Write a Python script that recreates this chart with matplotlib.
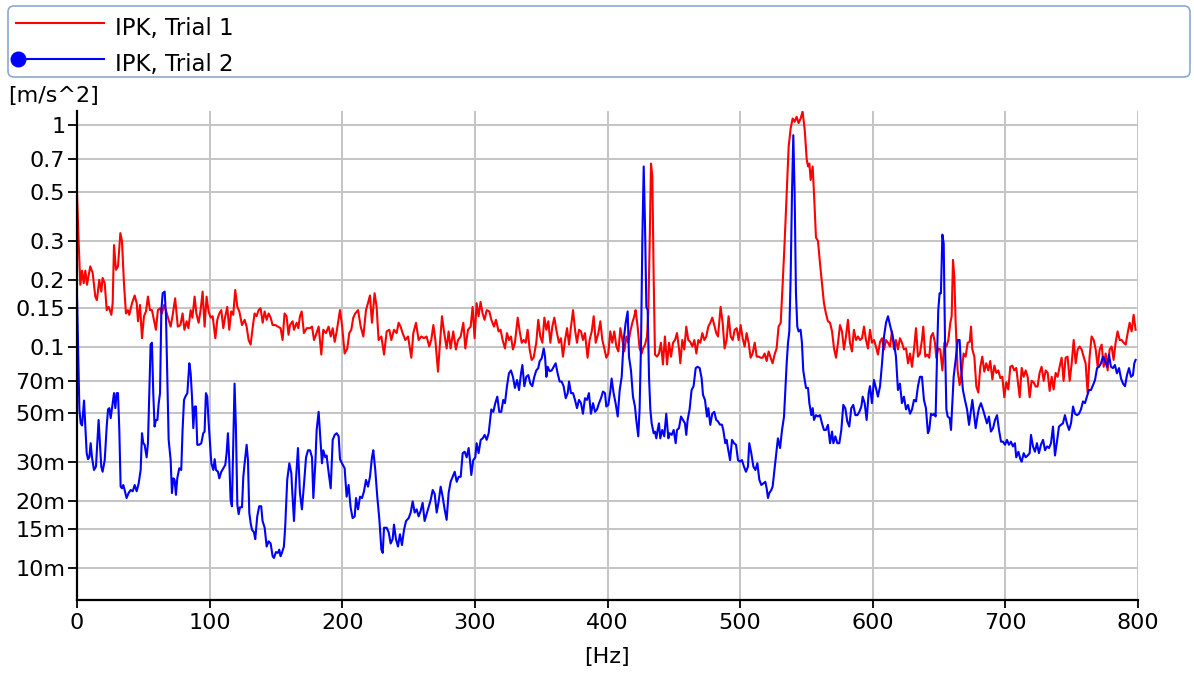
import matplotlib.pyplot as plt
import numpy as np
from matplotlib.lines import Line2D
from matplotlib.patches import FancyBboxPatch
from matplotlib.transforms import IdentityTransform
from matplotlib.ticker import FixedLocator, NullLocator

# (Hz, m/s^2) pairs, split by frequency range
red_0_160 = [
    (0, 0.49), (1.3, 0.29), (2.5, 0.19), (3.8, 0.22), (5.0, 0.193), (6.3, 0.22), (7.5, 0.19),
    (10.0, 0.23), (11.8, 0.215), (13.8, 0.168), (15.0, 0.162), (16.8, 0.20), (18.3, 0.177),
    (19.3, 0.204), (20.9, 0.193), (22.4, 0.146), (23.9, 0.151), (25.9, 0.139), (26.9, 0.157),
    (27.9, 0.287), (29.4, 0.222), (30.9, 0.23), (32.7, 0.325), (33.9, 0.30), (35.4, 0.193),
    (36.9, 0.141), (38.4, 0.146), (39.4, 0.139), (41.5, 0.157), (43.5, 0.17), (45.0, 0.157),
    (46.0, 0.13), (47.5, 0.154), (49.0, 0.109), (50.5, 0.137), (52.0, 0.144), (53.5, 0.168),
    (55.0, 0.146), (56.5, 0.146), (58.0, 0.132), (59.5, 0.119), (61.0, 0.146), (62.6, 0.149),
    (64.0, 0.141), (65.6, 0.154), (67.0, 0.146), (68.6, 0.135), (70.6, 0.123), (72.0, 0.137),
    (74.0, 0.165), (76.0, 0.123), (78.0, 0.125), (79.6, 0.141), (81.0, 0.119), (82.7, 0.13),
    (84.0, 0.121), (85.7, 0.146), (87.0, 0.135), (88.7, 0.168), (90.0, 0.141), (91.7, 0.128),
    (93.2, 0.146), (94.7, 0.177), (96.2, 0.123), (97.7, 0.168), (99.2, 0.144), (100.8, 0.135),
    (102.3, 0.137), (104.3, 0.109), (105.8, 0.132), (107.3, 0.141), (108.8, 0.146), (110.3, 0.121),
    (111.8, 0.137), (113.3, 0.151), (114.8, 0.119), (116.3, 0.144), (117.8, 0.139), (119.3, 0.18),
    (120.9, 0.151), (122.4, 0.144), (124.4, 0.125), (126.4, 0.132), (127.9, 0.123), (129.4, 0.107),
    (130.9, 0.102), (132.4, 0.121), (133.9, 0.141), (135.4, 0.137), (136.9, 0.146), (138.4, 0.149),
    (140.0, 0.128), (141.5, 0.144), (143.0, 0.132), (144.5, 0.141), (146.0, 0.135), (147.5, 0.125),
    (149.5, 0.125), (151.5, 0.123), (153.5, 0.121), (155.0, 0.107), (156.5, 0.141), (158.0, 0.137),
    (159.5, 0.113),
]
red_160_323 = [
    (160.6, 0.125), (162.6, 0.13), (163.6, 0.119), (165.6, 0.128), (166.9, 0.121), (168.1, 0.137),
    (169.4, 0.144), (171.1, 0.115), (173.2, 0.121), (175.7, 0.121), (177.2, 0.123), (178.7, 0.107),
    (180.2, 0.113), (182.2, 0.123), (184.2, 0.092), (185.7, 0.119), (187.7, 0.115), (189.7, 0.123),
    (191.3, 0.111), (192.8, 0.121), (194.3, 0.105), (195.8, 0.117), (198.3, 0.146), (199.8, 0.125),
    (201.8, 0.093), (203.8, 0.098), (205.3, 0.115), (206.8, 0.119), (208.3, 0.135), (209.8, 0.141),
    (211.9, 0.146), (213.9, 0.123), (215.9, 0.111), (217.9, 0.146), (219.4, 0.157), (220.9, 0.17),
    (222.4, 0.128), (224.4, 0.174), (225.9, 0.151), (227.4, 0.107), (229.5, 0.111), (231.5, 0.092),
    (233.5, 0.117), (235.5, 0.119), (237.0, 0.107), (239.0, 0.119), (241.0, 0.115), (242.5, 0.128),
    (244.0, 0.123), (245.5, 0.115), (247.6, 0.107), (249.6, 0.111), (252.1, 0.089), (253.6, 0.115),
    (255.6, 0.128), (257.6, 0.107), (259.6, 0.111), (261.6, 0.109), (263.6, 0.111), (265.6, 0.10),
    (267.1, 0.107), (268.7, 0.125), (270.2, 0.107), (272.2, 0.077), (273.7, 0.104), (275.2, 0.137),
    (276.7, 0.117), (278.7, 0.098), (280.2, 0.117), (281.7, 0.098), (283.7, 0.117), (285.7, 0.097),
    (287.3, 0.107), (289.3, 0.111), (291.3, 0.128), (292.8, 0.098), (294.8, 0.119), (296.8, 0.123),
    (298.3, 0.151), (299.8, 0.109), (301.3, 0.157), (302.8, 0.137), (304.3, 0.159), (305.8, 0.141),
    (307.3, 0.132), (308.9, 0.146), (310.9, 0.144), (312.4, 0.132), (314.4, 0.123), (315.9, 0.132),
    (317.9, 0.117), (319.4, 0.119), (320.9, 0.107), (322.7, 0.098),
]
red_323_484 = [
    (324.2, 0.115), (325.7, 0.107), (327.2, 0.111), (328.7, 0.097), (330.2, 0.104), (332.3, 0.135),
    (333.8, 0.117), (335.3, 0.104), (336.8, 0.107), (338.3, 0.104), (339.8, 0.119), (341.3, 0.097),
    (342.8, 0.087), (344.3, 0.089), (346.3, 0.104), (347.8, 0.132), (349.3, 0.111), (350.9, 0.104),
    (352.4, 0.135), (353.9, 0.119), (355.4, 0.13), (356.9, 0.104), (358.4, 0.123), (359.9, 0.135),
    (361.4, 0.119), (363.4, 0.104), (364.9, 0.109), (366.4, 0.09), (368.0, 0.107), (369.5, 0.121),
    (371.0, 0.102), (372.5, 0.123), (374.0, 0.146), (375.5, 0.119), (377.0, 0.104), (378.5, 0.119),
    (380.0, 0.117), (381.5, 0.107), (383.0, 0.115), (385.0, 0.089), (386.5, 0.107), (388.1, 0.117),
    (389.6, 0.137), (391.1, 0.104), (393.1, 0.115), (394.6, 0.13), (396.1, 0.107), (397.6, 0.098),
    (399.1, 0.089), (400.6, 0.093), (402.1, 0.117), (403.6, 0.104), (405.1, 0.117), (406.7, 0.10),
    (408.2, 0.095), (409.7, 0.121), (411.2, 0.107), (412.7, 0.095), (414.2, 0.111), (415.7, 0.104),
    (417.2, 0.117), (418.7, 0.128), (420.2, 0.137), (421.2, 0.146), (422.7, 0.123), (424.2, 0.098),
    (425.8, 0.093), (426.8, 0.098), (428.3, 0.102), (429.8, 0.111), (430.8, 0.146), (431.8, 0.292),
    (432.8, 0.67), (433.8, 0.585), (434.8, 0.207), (435.8, 0.092), (437.3, 0.09), (438.8, 0.093),
    (440.3, 0.104), (441.8, 0.083), (443.3, 0.111), (444.9, 0.083), (446.4, 0.104), (447.9, 0.09),
    (449.4, 0.104), (450.9, 0.107), (452.4, 0.115), (453.9, 0.098), (454.9, 0.084), (456.4, 0.107),
    (457.9, 0.097), (459.4, 0.123), (460.9, 0.107), (462.4, 0.105), (464.0, 0.10), (465.5, 0.107),
    (467.0, 0.093), (468.5, 0.107), (470.0, 0.104), (471.5, 0.115), (473.0, 0.107), (474.5, 0.111),
    (476.0, 0.123), (477.5, 0.128), (479.0, 0.135), (480.5, 0.125), (482.0, 0.115), (483.3, 0.111),
]
red_484_644 = [
    (485.3, 0.151), (486.8, 0.128), (488.3, 0.098), (489.8, 0.107), (491.3, 0.137), (492.9, 0.111),
    (494.4, 0.107), (495.9, 0.119), (497.4, 0.121), (498.9, 0.107), (500.4, 0.125), (501.9, 0.109),
    (503.4, 0.10), (504.9, 0.115), (506.4, 0.104), (507.9, 0.089), (509.4, 0.093), (511.0, 0.104),
    (512.5, 0.09), (514.0, 0.09), (515.5, 0.089), (517.0, 0.089), (518.5, 0.093), (520.0, 0.086),
    (521.5, 0.095), (523.0, 0.089), (524.5, 0.084), (526.0, 0.092), (527.5, 0.098), (529.0, 0.123),
    (530.6, 0.128), (532.1, 0.193), (533.6, 0.30), (535.1, 0.49), (536.6, 0.80), (538.1, 0.966),
    (539.6, 1.07), (541.1, 1.035), (542.6, 1.09), (544.1, 1.02), (545.6, 1.07), (547.1, 1.15),
    (548.7, 0.95), (550.2, 0.70), (551.2, 0.65), (552.2, 0.67), (553.2, 0.565), (554.7, 0.65),
    (555.7, 0.49), (557.2, 0.31), (558.7, 0.30), (560.2, 0.238), (561.7, 0.193), (563.2, 0.157),
    (564.7, 0.141), (566.2, 0.13), (567.8, 0.128), (569.3, 0.117), (570.8, 0.098), (572.3, 0.089),
    (573.8, 0.104), (575.3, 0.125), (576.8, 0.117), (578.3, 0.097), (579.8, 0.111), (581.3, 0.132),
    (582.8, 0.104), (584.3, 0.095), (585.8, 0.119), (587.4, 0.107), (588.9, 0.111), (590.4, 0.107),
    (591.9, 0.109), (593.4, 0.123), (594.9, 0.107), (596.4, 0.098), (597.9, 0.119), (599.4, 0.104),
    (600.9, 0.107), (602.4, 0.10), (603.9, 0.092), (605.5, 0.105), (607.0, 0.109), (608.5, 0.097),
    (610.0, 0.107), (611.5, 0.104), (613.0, 0.10), (614.5, 0.117), (616.0, 0.097), (617.5, 0.107),
    (619.0, 0.097), (620.5, 0.109), (622.0, 0.104), (623.5, 0.097), (625.1, 0.098), (626.6, 0.084),
    (628.1, 0.093), (629.6, 0.081), (631.1, 0.097), (632.6, 0.121), (634.1, 0.09), (635.6, 0.093),
    (637.1, 0.107), (638.1, 0.123), (639.6, 0.09), (641.1, 0.092), (642.6, 0.089), (643.9, 0.111),
]
red_644_800 = [
    (645.4, 0.115), (646.9, 0.104), (647.9, 0.089), (649.4, 0.098), (650.9, 0.097), (652.5, 0.078),
    (654.0, 0.104), (655.5, 0.10), (657.0, 0.107), (658.5, 0.128), (659.5, 0.137), (660.5, 0.246),
    (661.5, 0.207), (662.5, 0.128), (664.0, 0.078), (665.5, 0.067), (667.0, 0.076), (668.5, 0.093),
    (670.0, 0.09), (671.6, 0.104), (673.1, 0.105), (674.1, 0.123), (675.1, 0.097), (676.6, 0.09),
    (678.1, 0.066), (679.6, 0.062), (681.1, 0.081), (682.6, 0.09), (684.1, 0.077), (685.6, 0.084),
    (687.1, 0.078), (688.6, 0.086), (690.2, 0.071), (691.7, 0.082), (693.2, 0.076), (694.7, 0.078),
    (696.2, 0.072), (697.7, 0.073), (699.2, 0.059), (700.7, 0.069), (702.2, 0.064), (703.7, 0.081),
    (705.2, 0.082), (706.7, 0.078), (708.2, 0.08), (709.8, 0.066), (710.8, 0.059), (712.3, 0.08),
    (713.8, 0.073), (715.3, 0.078), (716.8, 0.073), (718.3, 0.059), (719.8, 0.07), (721.3, 0.069),
    (722.8, 0.066), (724.3, 0.066), (725.8, 0.076), (727.3, 0.081), (728.9, 0.07), (730.4, 0.078),
    (731.9, 0.076), (733.4, 0.063), (734.9, 0.073), (736.4, 0.064), (737.9, 0.076), (739.4, 0.073),
    (740.9, 0.081), (742.4, 0.089), (743.9, 0.07), (745.4, 0.089), (746.9, 0.09), (748.5, 0.07),
    (750.0, 0.084), (751.5, 0.107), (753.0, 0.084), (754.5, 0.097), (756.0, 0.10), (757.5, 0.097),
    (759.0, 0.09), (760.5, 0.084), (762.0, 0.062), (763.5, 0.09), (765.0, 0.111), (766.6, 0.107),
    (768.1, 0.097), (769.6, 0.081), (771.1, 0.097), (772.6, 0.102), (774.1, 0.081), (775.6, 0.093),
    (777.1, 0.078), (778.6, 0.097), (780.1, 0.10), (781.6, 0.087), (783.1, 0.104), (784.6, 0.117),
    (786.2, 0.107), (787.7, 0.107), (789.2, 0.104), (790.7, 0.102), (792.2, 0.115), (793.7, 0.128),
    (795.2, 0.117), (796.7, 0.139), (798.2, 0.119),
]

blue_0_162 = [
    (0.0, 0.17), (0.75, 0.103), (1.8, 0.052), (2.8, 0.045), (3.8, 0.044), (5.3, 0.057), (6.3, 0.0435),
    (7.3, 0.033), (8.3, 0.031), (9.3, 0.0316), (10.3, 0.0366), (11.3, 0.0316), (12.8, 0.0277),
    (14.3, 0.0287), (15.3, 0.0366), (16.3, 0.0466), (17.3, 0.0366), (18.3, 0.0287), (19.3, 0.0272),
    (20.9, 0.0307), (22.4, 0.0435), (23.4, 0.052), (24.4, 0.0527), (25.4, 0.0475), (26.9, 0.0555),
    (27.9, 0.0616), (28.9, 0.0527), (29.9, 0.0616), (30.9, 0.0616), (31.9, 0.042), (32.9, 0.0233),
    (33.9, 0.0229), (34.9, 0.0237), (35.9, 0.0225), (37.4, 0.0207), (38.9, 0.0218), (40.5, 0.0225),
    (42.0, 0.0222), (43.5, 0.0237), (45.0, 0.0222), (46.5, 0.0241), (48.0, 0.0277), (49.0, 0.0406),
    (50.0, 0.0366), (51.0, 0.036), (52.5, 0.0316), (53.5, 0.0366), (54.5, 0.0616), (55.5, 0.102),
    (56.5, 0.104), (57.5, 0.0616), (58.5, 0.0435), (59.5, 0.0466), (60.6, 0.0466), (61.6, 0.0555),
    (62.6, 0.0616), (63.6, 0.146), (64.6, 0.174), (66.1, 0.177), (67.1, 0.137), (68.1, 0.073),
    (69.1, 0.038), (70.6, 0.0307), (71.6, 0.0218), (72.6, 0.0254), (73.6, 0.025), (74.6, 0.0214),
    (75.6, 0.0254), (77.1, 0.0282), (78.6, 0.0277), (79.6, 0.042), (80.7, 0.0574), (81.7, 0.0594),
    (83.2, 0.0616), (84.7, 0.084), (85.7, 0.0757), (86.7, 0.0594), (87.7, 0.0428), (88.7, 0.0536),
    (89.7, 0.0536), (90.7, 0.036), (92.2, 0.036), (93.7, 0.0366), (95.2, 0.0406), (96.2, 0.0413),
    (97.2, 0.0616), (98.2, 0.0594), (99.2, 0.0459), (100.3, 0.0366), (101.3, 0.0297), (102.8, 0.0277),
    (103.8, 0.031), (104.8, 0.0277), (106.3, 0.0272), (107.3, 0.0254), (108.8, 0.0272), (110.3, 0.0282),
    (111.8, 0.0292), (112.8, 0.033), (113.8, 0.0406), (114.8, 0.0307), (115.8, 0.0204), (116.8, 0.019),
    (117.8, 0.0366), (118.8, 0.068), (119.8, 0.0435), (120.9, 0.0193), (121.9, 0.0175), (122.9, 0.0188),
    (124.4, 0.0188), (125.4, 0.0258), (126.4, 0.0297), (127.9, 0.036), (128.9, 0.0307), (129.9, 0.0178),
    (130.9, 0.016), (131.9, 0.0149), (133.4, 0.0145), (134.4, 0.0135), (135.9, 0.0171), (137.4, 0.019),
    (138.9, 0.019), (139.9, 0.0163), (141.5, 0.0152), (143.0, 0.0125), (144.5, 0.0132), (146.0, 0.0129),
    (147.5, 0.0113), (148.5, 0.0111), (150.0, 0.0118), (151.5, 0.0117), (152.5, 0.0121), (153.5, 0.0113),
    (154.5, 0.0117), (156.0, 0.0125), (157.0, 0.0154), (158.5, 0.025), (160.1, 0.0297), (161.6, 0.0268),
]
blue_162_323 = [
    (162.1, 0.0233), (163.6, 0.0163), (165.1, 0.025), (166.6, 0.0348), (168.1, 0.0218), (169.6, 0.0184),
    (171.2, 0.0241), (172.7, 0.0316), (174.2, 0.034), (175.7, 0.034), (177.2, 0.0316), (178.2, 0.0207),
    (179.7, 0.0297), (180.7, 0.042), (182.2, 0.0507), (183.7, 0.0366), (184.7, 0.0297), (185.7, 0.034),
    (187.2, 0.0316), (188.2, 0.0322), (189.8, 0.0268), (191.3, 0.0229), (192.8, 0.0379), (194.3, 0.0399),
    (195.8, 0.0406), (197.3, 0.0393), (198.3, 0.031), (199.8, 0.0297), (201.8, 0.0282), (203.3, 0.021),
    (204.8, 0.0237), (206.3, 0.0188), (207.8, 0.0168), (209.4, 0.0171), (210.4, 0.0207), (211.9, 0.0184),
    (213.4, 0.021), (214.9, 0.0207), (216.4, 0.0222), (217.9, 0.025), (219.4, 0.0233), (220.9, 0.0258),
    (222.4, 0.0316), (223.4, 0.034), (224.9, 0.0277), (226.4, 0.021), (228.0, 0.0165), (229.5, 0.0121),
    (230.5, 0.0117), (231.5, 0.0152), (233.5, 0.0152), (235.0, 0.0145), (236.5, 0.0129), (238.0, 0.0135),
    (239.0, 0.0157), (240.5, 0.0135), (242.0, 0.0125), (243.5, 0.0142), (245.0, 0.0127), (246.6, 0.0149),
    (248.1, 0.0163), (250.1, 0.0168), (251.6, 0.0178), (253.1, 0.020), (254.6, 0.0178), (256.1, 0.0184),
    (257.6, 0.0171), (259.1, 0.0181), (260.6, 0.0197), (262.1, 0.0163), (263.6, 0.0175), (265.1, 0.0188),
    (266.7, 0.0203), (268.2, 0.0225), (269.7, 0.0216), (271.2, 0.0178), (272.7, 0.020), (274.2, 0.0233),
    (275.7, 0.021), (277.2, 0.0184), (278.7, 0.0165), (280.2, 0.0218), (281.7, 0.0245), (283.2, 0.0258),
    (284.8, 0.0272), (286.3, 0.0245), (287.8, 0.0258), (289.3, 0.0258), (290.8, 0.033), (292.3, 0.0335),
    (293.8, 0.0316), (295.3, 0.0348), (296.3, 0.0307), (297.3, 0.0263), (298.8, 0.0307), (300.3, 0.0316),
    (301.3, 0.0366), (302.8, 0.033), (304.4, 0.0379), (305.9, 0.0385), (307.4, 0.0399), (308.9, 0.0379),
    (310.4, 0.0406), (311.4, 0.0459), (312.4, 0.052), (313.9, 0.0507), (315.4, 0.0555), (316.9, 0.0594),
    (318.4, 0.0507), (319.9, 0.0507), (321.4, 0.0574), (322.7, 0.0555),
]
blue_323_484 = [
    (324.2, 0.0662), (325.7, 0.0757), (327.2, 0.078), (328.7, 0.073), (330.2, 0.065), (331.8, 0.0706),
    (333.3, 0.0636), (334.8, 0.0757), (335.8, 0.0825), (337.3, 0.0662), (338.8, 0.073), (340.3, 0.0743),
    (341.8, 0.068), (343.3, 0.0662), (344.8, 0.073), (346.3, 0.078), (347.8, 0.0799), (348.8, 0.0857),
    (350.4, 0.0885), (351.9, 0.098), (352.9, 0.090), (353.9, 0.073), (354.9, 0.081), (356.4, 0.0773),
    (357.9, 0.078), (359.4, 0.081), (360.9, 0.084), (362.4, 0.0757), (363.9, 0.0695), (365.4, 0.0695),
    (366.9, 0.0662), (368.5, 0.0584), (370.0, 0.0616), (371.0, 0.0695), (372.5, 0.0616), (374.0, 0.0616),
    (375.5, 0.0574), (377.0, 0.0527), (378.5, 0.0574), (380.0, 0.0555), (381.5, 0.0497), (383.0, 0.0584),
    (384.5, 0.0574), (386.0, 0.0616), (387.5, 0.0497), (389.1, 0.0555), (390.6, 0.0507), (392.1, 0.052),
    (393.6, 0.0555), (395.1, 0.0584), (396.6, 0.0626), (398.1, 0.0616), (399.1, 0.0536), (400.6, 0.0545),
    (402.1, 0.0626), (403.1, 0.0717), (404.6, 0.0616), (406.1, 0.0555), (407.7, 0.0483), (409.2, 0.0636),
    (410.7, 0.073), (412.2, 0.107), (413.7, 0.128), (415.2, 0.144), (416.2, 0.090), (417.7, 0.078),
    (419.2, 0.0594), (420.7, 0.0536), (421.7, 0.0466), (423.2, 0.0393), (424.2, 0.052), (425.3, 0.104),
    (426.3, 0.313), (427.3, 0.65), (428.3, 0.348), (429.3, 0.151), (430.3, 0.146), (431.3, 0.073),
    (432.3, 0.052), (433.3, 0.045), (434.8, 0.0406), (435.8, 0.0413), (436.8, 0.0385), (437.8, 0.042),
    (438.8, 0.045), (439.8, 0.0385), (441.3, 0.042), (442.8, 0.0393), (444.3, 0.0497), (445.9, 0.0385),
    (446.9, 0.0406), (448.4, 0.0399), (449.9, 0.042), (451.4, 0.0366), (452.4, 0.042), (453.9, 0.0428),
    (455.4, 0.0483), (456.9, 0.0466), (458.4, 0.045), (459.4, 0.0399), (460.4, 0.0466), (461.9, 0.052),
    (463.4, 0.0636), (464.9, 0.0662), (466.5, 0.0799), (468.0, 0.081), (469.5, 0.0799), (471.0, 0.0717),
    (472.0, 0.0605), (473.5, 0.0574), (475.0, 0.0483), (476.0, 0.0527), (477.5, 0.0443), (479.0, 0.0497),
    (480.5, 0.0507), (482.0, 0.0466), (483.3, 0.0459),
]
blue_484_644 = [
    (484.8, 0.0444), (486.3, 0.0444), (487.3, 0.042), (488.8, 0.0366), (489.8, 0.0379), (490.8, 0.0348),
    (492.4, 0.0307), (493.9, 0.0379), (495.4, 0.0366), (496.9, 0.036), (498.4, 0.0307), (499.9, 0.0302),
    (501.4, 0.0307), (502.9, 0.0287), (504.4, 0.0272), (505.9, 0.0287), (506.9, 0.0366), (508.4, 0.033),
    (510.0, 0.0287), (511.5, 0.0277), (513.0, 0.0297), (514.5, 0.025), (516.0, 0.0237), (517.5, 0.0241),
    (519.0, 0.0245), (520.0, 0.0229), (521.0, 0.0207), (522.0, 0.0218), (523.5, 0.0225), (524.5, 0.0233),
    (526.0, 0.0282), (527.5, 0.034), (528.5, 0.0385), (530.1, 0.0348), (531.6, 0.042), (533.1, 0.0483),
    (534.1, 0.0636), (535.1, 0.084), (536.1, 0.104), (537.1, 0.117), (538.1, 0.207), (539.1, 0.49),
    (540.1, 0.90), (541.1, 0.49), (542.1, 0.174), (543.1, 0.123), (544.1, 0.117), (545.6, 0.119),
    (546.6, 0.104), (547.6, 0.078), (548.7, 0.0706), (549.7, 0.065), (551.2, 0.065), (552.2, 0.0555),
    (553.7, 0.049), (554.7, 0.0527), (555.7, 0.0466), (557.2, 0.049), (558.7, 0.0483), (560.2, 0.049),
    (561.7, 0.045), (563.2, 0.042), (564.7, 0.042), (566.2, 0.0443), (567.8, 0.0366), (569.3, 0.0413),
    (570.3, 0.0366), (571.8, 0.0393), (573.3, 0.0366), (574.8, 0.0366), (576.3, 0.042), (577.8, 0.0545),
    (579.3, 0.0527), (580.8, 0.0459), (582.3, 0.0435), (583.8, 0.0527), (585.3, 0.0545), (586.9, 0.049),
    (588.4, 0.049), (589.9, 0.0507), (591.4, 0.0536), (592.4, 0.0594), (593.9, 0.0555), (595.4, 0.0466),
    (596.9, 0.0616), (597.9, 0.0662), (599.4, 0.0555), (600.9, 0.0706), (602.4, 0.065), (603.9, 0.0594),
    (605.5, 0.0662), (607.0, 0.084), (608.5, 0.111), (610.0, 0.128), (611.5, 0.137), (613.0, 0.125),
    (614.5, 0.115), (616.0, 0.104), (617.5, 0.090), (619.0, 0.0636), (620.5, 0.068), (622.0, 0.0555),
    (623.5, 0.0594), (625.1, 0.052), (626.6, 0.0545), (628.1, 0.0497), (629.6, 0.052), (631.1, 0.0574),
    (632.6, 0.0565), (634.1, 0.0662), (635.6, 0.073), (637.1, 0.073), (638.6, 0.0574), (640.1, 0.0527),
    (641.6, 0.0406), (642.6, 0.042), (643.9, 0.0497),
]
blue_644_800 = [
    (645.4, 0.049), (646.4, 0.0497), (647.4, 0.0483), (648.4, 0.087), (649.4, 0.146), (650.4, 0.174),
    (651.4, 0.174), (652.5, 0.32), (653.5, 0.292), (654.5, 0.104), (655.5, 0.052), (656.5, 0.0483),
    (658.0, 0.0475), (659.0, 0.042), (660.0, 0.0555), (661.0, 0.073), (662.5, 0.087), (664.0, 0.107),
    (665.5, 0.107), (666.5, 0.081), (668.0, 0.0636), (669.5, 0.0574), (671.1, 0.052), (672.6, 0.0443),
    (674.1, 0.052), (675.1, 0.0574), (676.6, 0.0483), (677.6, 0.0428), (679.1, 0.049), (680.1, 0.0527),
    (681.6, 0.0555), (683.1, 0.052), (684.6, 0.0483), (686.1, 0.045), (687.6, 0.0483), (689.1, 0.0413),
    (690.7, 0.0428), (692.2, 0.0466), (693.7, 0.049), (695.2, 0.042), (696.7, 0.0372), (698.2, 0.0372),
    (699.7, 0.036), (701.2, 0.0379), (702.7, 0.036), (704.2, 0.0372), (705.7, 0.0354), (707.2, 0.0366),
    (708.2, 0.0316), (709.8, 0.0335), (711.3, 0.031), (712.3, 0.0302), (713.8, 0.033), (715.3, 0.0316),
    (716.8, 0.0322), (718.3, 0.033), (719.3, 0.0399), (720.8, 0.0354), (722.3, 0.0335), (723.8, 0.0366),
    (725.3, 0.033), (726.8, 0.036), (728.4, 0.0379), (729.9, 0.034), (731.4, 0.0354), (732.9, 0.0348),
    (734.4, 0.0366), (735.9, 0.0435), (737.4, 0.0322), (738.9, 0.0372), (740.4, 0.0435), (741.9, 0.0443),
    (743.4, 0.045), (744.9, 0.049), (746.4, 0.045), (748.0, 0.042), (749.5, 0.045), (751.0, 0.0536),
    (752.5, 0.0497), (754.0, 0.049), (755.5, 0.0497), (757.0, 0.052), (758.5, 0.0565), (760.0, 0.0555),
    (761.5, 0.0594), (763.0, 0.0636), (764.5, 0.0636), (766.1, 0.067), (767.6, 0.0706), (769.1, 0.0799),
    (770.6, 0.081), (772.1, 0.084), (773.6, 0.090), (775.1, 0.086), (776.6, 0.081), (778.1, 0.092),
    (779.6, 0.081), (781.1, 0.0799), (782.6, 0.0825), (784.1, 0.0757), (785.7, 0.0799), (787.2, 0.0717),
    (788.7, 0.068), (790.2, 0.0662), (791.7, 0.0743), (793.2, 0.0799), (794.7, 0.073), (796.2, 0.0743),
    (797.2, 0.084), (798.2, 0.087),
]

y_ticks = [1, 0.7, 0.5, 0.3, 0.2, 0.15, 0.1, 0.07, 0.05, 0.03, 0.02, 0.015, 0.01]
y_labels = ['1', '0.7', '0.5', '0.3', '0.2', '0.15', '0.1', '70m', '50m', '30m', '20m', '15m', '10m']
x_ticks = [0, 100, 200, 300, 400, 500, 600, 700, 800]
series_names = ['IPK, Trial 1', 'IPK, Trial 2']

red = np.array(red_0_160 + red_160_323 + red_323_484 + red_484_644 + red_644_800)
blue = np.array(blue_0_162 + blue_162_323 + blue_323_484 + blue_484_644 + blue_644_800)

W, H = 1194, 673
plt.rcParams['font.family'] = 'DejaVu Sans'
fig = plt.figure(figsize=(W / 100, H / 100), dpi=100)
ax = fig.add_axes([77 / W, 1 - 600 / H, (1138 - 77) / W, (600 - 111) / H])

ax.plot(red[:, 0], red[:, 1], color='#ff0000', lw=1.5)
ax.plot(blue[:, 0], blue[:, 1], color='#0000ff', lw=1.5)

ax.set_yscale('log')
ax.set_xlim(0, 800)
ax.set_ylim(0.00717, 1.157)
ax.yaxis.set_major_locator(FixedLocator(y_ticks))
ax.yaxis.set_minor_locator(NullLocator())
ax.set_yticklabels(y_labels)
ax.set_xticks(x_ticks)
ax.grid(True, color='#c4c4c4', lw=1.4)
ax.set_axisbelow(True)

for s in ['top', 'right']:
    ax.spines[s].set_visible(False)
for s in ['left', 'bottom']:
    ax.spines[s].set_linewidth(1.6)
    ax.spines[s].set_color('black')
ax.tick_params(axis='y', direction='out', length=6.5, width=1.3, pad=2, labelsize=16)
ax.tick_params(axis='x', direction='out', length=5.5, width=1.3, pad=4, labelsize=16)

# legend box drawn in pixel coordinates (marker sits at the left end of the blue sample)
px = IdentityTransform()
fig.add_artist(FancyBboxPatch((8, H - 77), 1182, 71, boxstyle='round,pad=0,rounding_size=6',
                              transform=px, facecolor='white', edgecolor='#8ea8d0', lw=1.2))
fig.add_artist(Line2D([16, 104], [H - 23, H - 23], transform=px, color='#ff0000', lw=1.5))
fig.add_artist(Line2D([18, 104], [H - 58.5, H - 58.5], transform=px, color='#0000ff', lw=1.5))
fig.add_artist(Line2D([18], [H - 58.5], transform=px, color='#0000ff', marker='o', ms=10.5))
fig.text(115, H - 35, series_names[0], transform=px, fontsize=16.5, va='baseline')
fig.text(115, H - 71, series_names[1], transform=px, fontsize=16.5, va='baseline')

fig.text(8, H - 102, '[m/s^2]', transform=px, fontsize=16, va='baseline')
fig.text(607, H - 663, '[Hz]', transform=px, fontsize=16, va='baseline', ha='center')

fig.savefig('out.png', dpi=100)
